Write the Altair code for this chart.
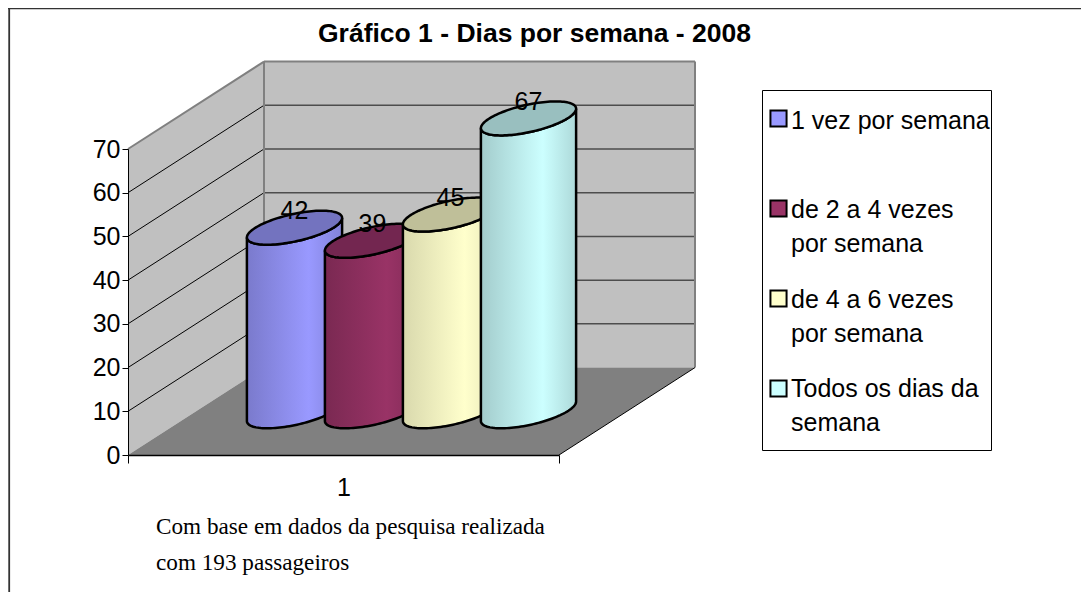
import math
import altair as alt
import pandas as pd

# ---------- chart values ----------
categories = ["1 vez por semana", "de 2 a 4 vezes por semana", "de 4 a 6 vezes por semana", "Todos os dias da semana"]
values = [42, 39, 45, 67]
fills = ["#9999FF", "#993366", "#FFFFCC", "#CCFFFF"]
tops = ["#7373BF", "#732650", "#BFBF99", "#99BFBF"]
shades = ["#7A7ACC", "#7A2952", "#D9D9AD", "#A3CCCC"]
ends = ["#8282D9", "#822B57", "#E6E6B8", "#ADD9D9"]
y_ticks = [0, 10, 20, 30, 40, 50, 60, 70]
title_text = "Gráfico 1 - Dias por semana - 2008"
caption_lines = ["Com base em dados da pesquisa realizada", "com 193 passageiros"]
legend_lines = [
    ["1 vez por semana"],
    ["de 2 a 4 vezes", "por semana"],
    ["de 4 a 6 vezes", "por semana"],
    ["Todos os dias da", "semana"],
]

# ---------- oblique 3D geometry, in scale units ----------
W, H = 431, 306
LEFT, TOP = 120, 141
DX = 136       # depth shift along x
DV = 20        # depth shift in value units
STEP = 78
R = 47.6
RV = 3.89
T0 = math.atan2(27.3, 39)
SANS = "Liberation Sans"
SERIF = "Liberation Serif"
FS = 25

xs = alt.Scale(domain=[0, W], nice=False, zero=False)
ys = alt.Scale(domain=[0, 70], nice=False, zero=False)
X = lambda f: alt.X(f"{f}:Q", scale=xs, title=None)
Y = lambda f: alt.Y(f"{f}:Q", scale=ys, title=None)


def band(df, color, **kw):
    return alt.Chart(pd.DataFrame(df)).mark_area(color=color, **kw).encode(x=X("x"), y=Y("y"), y2=alt.Y2("y2"))


def segs(df, color, width):
    return alt.Chart(pd.DataFrame(df)).mark_rule(color=color, strokeWidth=width).encode(
        x=X("x"), x2=alt.X2("x2"), y=Y("y"), y2=alt.Y2("y2"))


left_wall = band({"x": [0, DX], "y": [70, 70 + DV], "y2": [0, DV]}, "#C0C0C0")
back_wall = band({"x": [DX, W + DX], "y": [70 + DV, 70 + DV], "y2": [DV, DV]}, "#C0C0C0")
floor = band({"x": [0, DX, W, W + DX], "y": [0, DV, DV, DV], "y2": [0, 0, 0, DV]}, "#808080")

grid_v = y_ticks[1:-1]
grid_side = segs({"x": [0] * 6, "x2": [DX] * 6, "y": grid_v, "y2": [v + DV for v in grid_v]}, "#000000", 1)
grid_back = segs({"x": [DX] * 6, "x2": [W + DX] * 6, "y": [v + DV for v in grid_v], "y2": [v + DV for v in grid_v]}, "#4D4D4D", 1.5)
edges = segs({
    "x": [0, DX, DX, W + DX],
    "x2": [DX, W + DX, DX, W + DX],
    "y": [70, 70 + DV, DV, DV],
    "y2": [70 + DV, 70 + DV, 70 + DV, 70 + DV],
}, "#808080", 2)
floor_edge = segs({"x": [W], "x2": [W + DX], "y": [0], "y2": [DV]}, "#000000", 1)

# ---------- cylinders ----------
cyl_layers = []
cx_list = []
for i, (v, f, t, s, e) in enumerate(zip(values, fills, tops, shades, ends)):
    cx = W / 2 + (i - 1.5) * STEP + DX / 2
    cx_list.append(cx)
    rows = []
    for k in range(61):
        phi = math.pi * (1 - k / 60)
        rows.append({
            "x": cx + R * math.cos(phi),
            "low": RV * math.sin(T0 - phi),
            "up": RV * math.sin(T0 + phi),
        })
    d = pd.DataFrame(rows)
    body = pd.DataFrame({"x": d.x, "y": v + DV / 2 + d.low, "y2": DV / 2 + d.low})
    cap = pd.DataFrame({"x": d.x, "y": v + DV / 2 + d.up, "y2": v + DV / 2 + d.low})
    grad = alt.LinearGradient(gradient="linear", x1=0, x2=1, y1=0, y2=0, stops=[
        alt.GradientStop(offset=0, color=s),
        alt.GradientStop(offset=0.65, color=f),
        alt.GradientStop(offset=1, color=e),
    ])
    cyl_layers.append(band(body, grad, stroke="#000000", strokeWidth=2.5))
    cyl_layers.append(band(cap, t, stroke="#000000", strokeWidth=2.5))

labels = alt.Chart(pd.DataFrame({
    "x": cx_list,
    "y": [v + DV / 2 + RV - 0.15 for v in values],
    "t": [str(v) for v in values],
})).mark_text(font=SANS, fontSize=FS, color="#000000", baseline="middle").encode(x=X("x"), y=Y("y"), text="t:N")

# ---------- real axes ----------
axis_layer = alt.Chart(pd.DataFrame({"x": [0], "y": [0]})).mark_point(opacity=0).encode(
    x=alt.X("x:Q", scale=xs, title=None, axis=alt.Axis(
        values=[0, W / 2, W], grid=False, labelFont=SANS, labelFontSize=FS, labelColor="#000000",
        labelExpr="datum.value > 0 && datum.value < %d ? '1' : ''" % W, labelPadding=12, tickSize=8,
        tickColor="#000000", domainColor="#000000", domainWidth=1.6,
        tickOpacity={"condition": {"test": "datum.value > 0 && datum.value < %d" % W, "value": 0}, "value": 1},
        zindex=1)),
    y=alt.Y("y:Q", scale=ys, title=None, axis=alt.Axis(
        values=y_ticks, grid=False, labelFont=SANS, labelFontSize=FS, labelColor="#000000", labelPadding=2,
        tickSize=6, tickColor="#000000", domainColor="#000000", zindex=1)),
)

# ---------- frame, caption, legend ----------
one = pd.DataFrame({"a": [0]})
frame_top = alt.Chart(one).mark_rule(color="#333333", strokeWidth=1.6).encode(
    x=alt.value(-LEFT), x2=alt.value(1089), y=alt.value(-TOP + 0.5))
frame_left = alt.Chart(one).mark_rule(color="#333333", strokeWidth=1.8).encode(
    x=alt.value(-LEFT + 1.2), y=alt.value(-TOP), y2=alt.value(600))

caption = alt.Chart(pd.DataFrame({"t": caption_lines, "py": [534 - 149, 570 - 149]})).mark_text(
    font=SERIF, fontSize=23.2, color="#000000", align="left", baseline="alphabetic"
).encode(x=alt.value(156 - 128), y=alt.Y("py:Q", scale=None), text="t:N")

legend_box = alt.Chart(one).mark_rect(fill="#FFFFFF", stroke="#000000", strokeWidth=1).encode(
    x=alt.value(762.5 - 128), x2=alt.value(991.5 - 128), y=alt.value(90.5 - 149), y2=alt.value(450.5 - 149))
swatches = alt.Chart(pd.DataFrame({"c": categories, "py": [118.5 - 149, 208.5 - 149, 298.5 - 149, 388.5 - 149]})).mark_square(
    size=260, stroke="#000000", strokeWidth=2, opacity=1
).encode(
    x=alt.value(778.5 - 128), y=alt.Y("py:Q", scale=None),
    fill=alt.Fill("c:N", scale=alt.Scale(domain=categories, range=fills), legend=None))
leg_rows = []
for lines, base in zip(legend_lines, [129, 218, 308, 397]):
    for j, line in enumerate(lines):
        leg_rows.append({"t": line, "py": base + 34 * j - 149})
legend_text = alt.Chart(pd.DataFrame(leg_rows)).mark_text(
    font=SANS, fontSize=FS, color="#000000", align="left", baseline="alphabetic"
).encode(x=alt.value(791 - 128), y=alt.Y("py:Q", scale=None), text="t:N")

chart = alt.layer(
    axis_layer, left_wall, back_wall, floor, grid_side, grid_back, edges, floor_edge,
    *cyl_layers, labels,
    frame_top, frame_left, caption, legend_box, swatches, legend_text,
).properties(
    width=W, height=H,
    padding={"left": LEFT, "top": TOP, "right": 1073 - LEFT - W, "bottom": 584 - TOP - H},
    autosize=alt.AutoSizeParams(type="none"),
    background="#FFFFFF",
    title=alt.TitleParams(title_text, font=SANS, fontSize=26.5, fontWeight="bold", color="#000000",
                          anchor="middle", dx=191, offset=-40),
).configure_view(stroke=None)

chart.save("out.html", embed_options={"renderer": "svg", "actions": False})
